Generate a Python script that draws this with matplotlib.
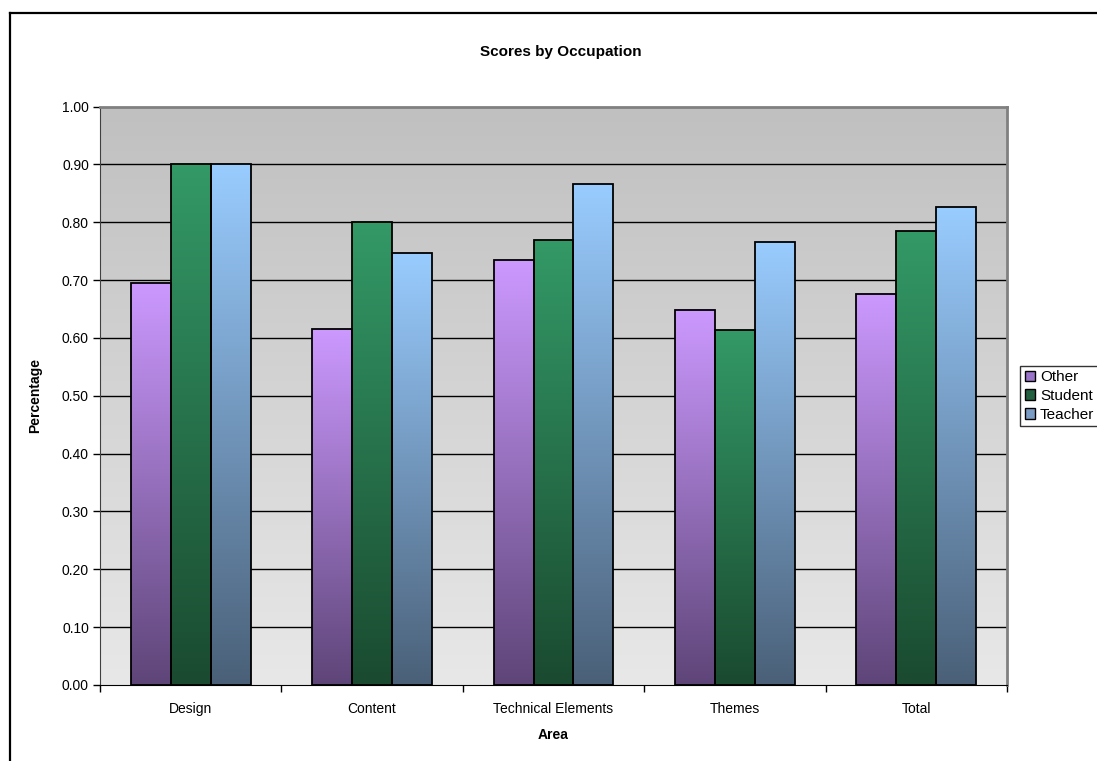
import matplotlib
matplotlib.use("Agg")
import matplotlib.pyplot as plt
import numpy as np
from matplotlib.patches import Patch
from matplotlib.colors import LinearSegmentedColormap
from matplotlib.lines import Line2D

plt.rcParams['font.family'] = ['Liberation Sans', 'DejaVu Sans']

areas = ["Design", "Content", "Technical Elements", "Themes", "Total"]
series_names = ["Other", "Student", "Teacher"]
other = [0.695, 0.615, 0.734, 0.649, 0.676]
student = [0.90, 0.80, 0.769, 0.613, 0.784]
teacher = [0.90, 0.746, 0.866, 0.766, 0.826]

top_colors = ["#cc99ff", "#339966", "#99ccff"]
bottom_colors = ["#5e4578", "#1a4a30", "#4a6078"]
legend_colors = ["#9a74c8", "#23603f", "#7a9cc4"]

fig = plt.figure(figsize=(10.97, 7.61), dpi=100)
ax = fig.add_axes([100/1097, 76/761, 907/1097, 578.5/761])

ax.set_xlim(-0.5, len(areas) - 0.5)
ax.set_ylim(0, 1.0)

# background gradient (dark at top, light at bottom)
bg = LinearSegmentedColormap.from_list("bg", ["#e8e8e8", "#c0c0c0"])
ax.imshow(np.linspace(0, 1, 256).reshape(-1, 1), cmap=bg, origin="lower",
          extent=[-0.5, len(areas) - 0.5, 0, 1], aspect="auto", zorder=0)

yticks = np.arange(0, 1.01, 0.1)
ax.set_yticks(yticks)
ax.set_yticklabels(["%.2f" % v for v in yticks])
# gridlines, leaving the top edge to the grey frame
ax.hlines(yticks[1:-1], -0.5, len(areas) - 0.5, color="black", linewidth=1.0, zorder=1)

width = 0.22
values = [other, student, teacher]
for s, vals in enumerate(values):
    cmap = LinearSegmentedColormap.from_list("g%d" % s, [bottom_colors[s], top_colors[s]])
    for i, v in enumerate(vals):
        x0 = i + (s - 1) * width - width / 2
        ax.imshow(np.linspace(0, 1, 256).reshape(-1, 1), cmap=cmap, origin="lower",
                  extent=[x0, x0 + width, 0, v], aspect="auto", zorder=2)
    ax.bar([i + (s - 1) * width for i in range(len(vals))], vals, width,
           facecolor="none", edgecolor="black", linewidth=1.3, zorder=3)

ax.set_xlim(-0.5, len(areas) - 0.5)
ax.set_ylim(0, 1.0)

ax.set_xticks(range(len(areas)))
ax.set_xticklabels(areas, fontsize=10)
ax.set_xticks(np.arange(-0.5, len(areas)), minor=True)
ax.tick_params(axis="x", which="major", length=0, pad=12)
ax.tick_params(axis="x", which="minor", length=5, direction="out", width=1)
ax.tick_params(axis="y", length=5, direction="out", width=1, labelsize=10, pad=3)

for side in ["top", "right"]:
    ax.spines[side].set_color("#808080")
    ax.spines[side].set_linewidth(2)
ax.spines["left"].set_color("#404040")
ax.spines["bottom"].set_color("#000000")

ax.set_xlabel("Area", fontsize=10, fontweight="bold", labelpad=9)
ax.set_ylabel("Percentage", fontsize=10, fontweight="bold", labelpad=14)
fig.text(561/1097, 1 - 52/761, "Scores by Occupation", fontsize=11, fontweight="bold",
         ha="center", va="center")

handles = [Patch(facecolor=c, edgecolor="black", linewidth=1) for c in legend_colors]
fig.legend(handles, series_names, loc="center left", bbox_to_anchor=(1020/1097, 1 - 396/761),
           fontsize=11, frameon=True, fancybox=False, edgecolor="black",
           handlelength=0.7, handleheight=0.7, handletextpad=0.3, borderpad=0.3,
           labelspacing=0.3, borderaxespad=0)

# outer chart border (left and top visible)
fig.add_artist(Line2D([10/1097, 10/1097], [0, 1 - 13/761], color="black", linewidth=1.6,
                      transform=fig.transFigure))
fig.add_artist(Line2D([10/1097, 1], [1 - 13/761, 1 - 13/761], color="black", linewidth=1.6,
                      transform=fig.transFigure))

fig.savefig("out.png", dpi=100)
